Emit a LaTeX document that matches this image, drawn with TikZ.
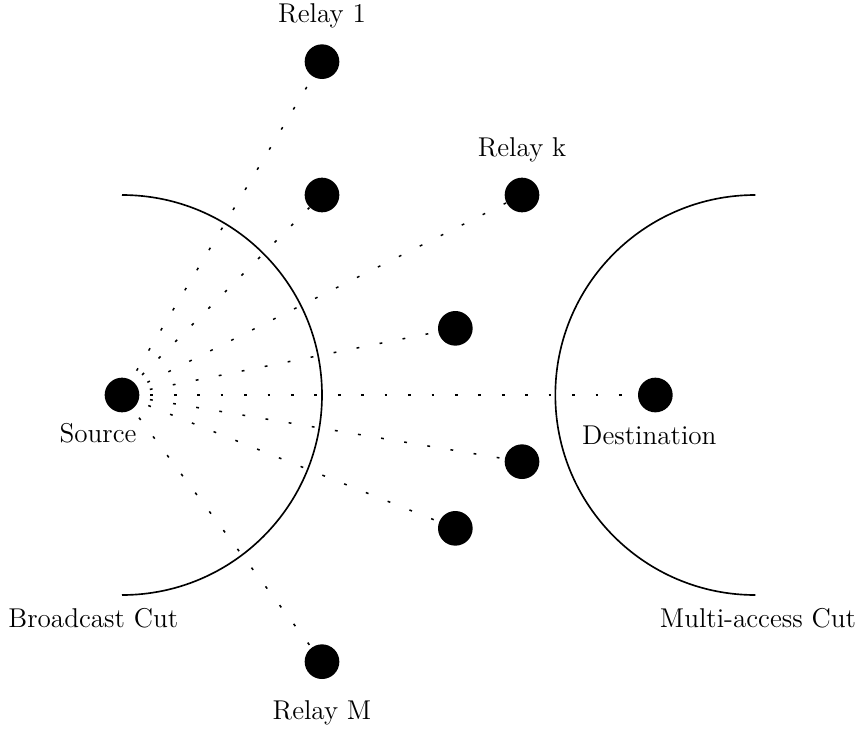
\documentclass[tikz,border=0pt]{standalone}
\begin{document}
\begin{tikzpicture}[x=1cm,y=1cm,
  dot/.style={circle,fill=black,draw=none,minimum size=0.52cm,inner sep=0pt},
  lbl/.style={font=\fontsize{11.6}{14}\selectfont,inner sep=0pt},
  link/.style={line width=0.65pt,dash pattern=on 1.2pt off 8.8pt,dash phase=5.5pt},
  cut/.style={line width=0.7pt}]
\useasboundingbox (-1.83,-5.07) rectangle (11.085,5.925);
\node[dot] (src) at (0,0) {};
\node[dot] (r1) at (3,5) {};
\node[dot] (r2) at (3,3) {};
\node[dot] (rk) at (6,3) {};
\node[dot] (r4) at (5,1) {};
\node[dot] (dst) at (8,0) {};
\node[dot] (r6) at (6,-1) {};
\node[dot] (r7) at (5,-2) {};
\node[dot] (rm) at (3,-4) {};
\node[lbl] (l1) at (3,5.685) {Relay 1};
\node[lbl] (lk) at (6,3.675) {Relay k};
\node[lbl] (lm) at (3,-4.77) {Relay M};
\node[lbl] (ls) at (-0.36,-0.57) {Source};
\node[lbl] (ld) at (7.91,-0.6) {Destination};
\node[lbl] (lb) at (-0.43,-3.345) {Broadcast Cut};
\node[lbl] (lma) at (9.54,-3.345) {Multi-access Cut};
\foreach \t in {r1,r2,rk,r4,dst,r6,r7,rm} \draw[link] (src) -- (\t);
\draw[cut] (0,3) arc[start angle=90,end angle=-90,radius=3];
\draw[cut] (9.5,3) arc[start angle=90,end angle=270,radius=3];
\end{tikzpicture}
\end{document}
